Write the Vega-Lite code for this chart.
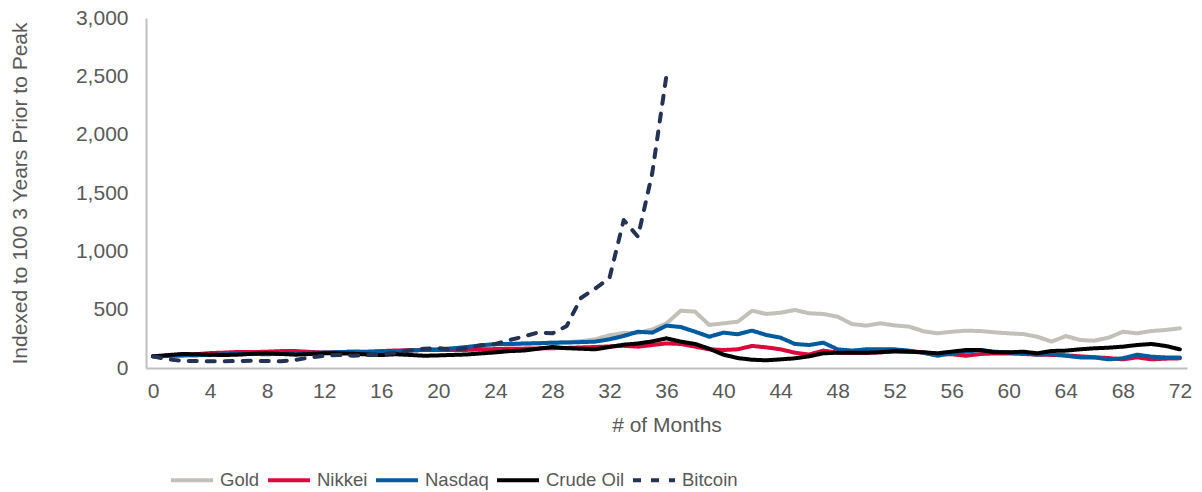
{
  "$schema": "https://vega.github.io/schema/vega-lite/v6.json",
  "autosize": "none",
  "width": 1041,
  "height": 350,
  "padding": {"left": 146, "top": 18, "right": 15, "bottom": 124},
  "config": {
    "view": {"stroke": null},
    "font": "Liberation Sans",
    "axis": {"labelFont": "Liberation Sans", "titleFont": "Liberation Sans", "labelColor": "#595959", "titleColor": "#595959", "labelFontSize": 21, "titleFontSize": 21, "titleFontWeight": "normal", "grid": false, "ticks": false, "domainColor": "#BFBFBF", "domainWidth": 2},
    "legend": {"labelFont": "Liberation Sans", "labelColor": "#595959", "labelFontSize": 18.5}
  },
  "data": {"values": [
    {"m":0,"Gold":100,"Nikkei":100,"Nasdaq":100,"Crude Oil":100,"Bitcoin":100},
    {"m":1,"Gold":102,"Nikkei":105,"Nasdaq":105,"Crude Oil":110,"Bitcoin":75},
    {"m":2,"Gold":105,"Nikkei":112,"Nasdaq":108,"Crude Oil":120,"Bitcoin":62},
    {"m":3,"Gold":108,"Nikkei":118,"Nasdaq":110,"Crude Oil":118,"Bitcoin":60},
    {"m":4,"Gold":110,"Nikkei":128,"Nasdaq":112,"Crude Oil":114,"Bitcoin":58},
    {"m":5,"Gold":115,"Nikkei":132,"Nasdaq":118,"Crude Oil":111,"Bitcoin":58},
    {"m":6,"Gold":118,"Nikkei":138,"Nasdaq":122,"Crude Oil":115,"Bitcoin":60},
    {"m":7,"Gold":120,"Nikkei":136,"Nasdaq":120,"Crude Oil":122,"Bitcoin":62},
    {"m":8,"Gold":122,"Nikkei":140,"Nasdaq":118,"Crude Oil":126,"Bitcoin":60},
    {"m":9,"Gold":125,"Nikkei":145,"Nasdaq":122,"Crude Oil":120,"Bitcoin":57},
    {"m":10,"Gold":128,"Nikkei":145,"Nasdaq":128,"Crude Oil":114,"Bitcoin":70},
    {"m":11,"Gold":130,"Nikkei":138,"Nasdaq":130,"Crude Oil":120,"Bitcoin":90},
    {"m":12,"Gold":132,"Nikkei":132,"Nasdaq":132,"Crude Oil":126,"Bitcoin":105},
    {"m":13,"Gold":135,"Nikkei":135,"Nasdaq":136,"Crude Oil":126,"Bitcoin":112},
    {"m":14,"Gold":138,"Nikkei":140,"Nasdaq":140,"Crude Oil":122,"Bitcoin":105},
    {"m":15,"Gold":140,"Nikkei":140,"Nasdaq":136,"Crude Oil":116,"Bitcoin":110},
    {"m":16,"Gold":142,"Nikkei":145,"Nasdaq":140,"Crude Oil":111,"Bitcoin":115},
    {"m":17,"Gold":145,"Nikkei":150,"Nasdaq":145,"Crude Oil":118,"Bitcoin":130},
    {"m":18,"Gold":150,"Nikkei":152,"Nasdaq":150,"Crude Oil":112,"Bitcoin":150},
    {"m":19,"Gold":155,"Nikkei":154,"Nasdaq":155,"Crude Oil":105,"Bitcoin":165},
    {"m":20,"Gold":160,"Nikkei":154,"Nasdaq":160,"Crude Oil":108,"Bitcoin":170},
    {"m":21,"Gold":168,"Nikkei":155,"Nasdaq":168,"Crude Oil":112,"Bitcoin":155},
    {"m":22,"Gold":178,"Nikkei":155,"Nasdaq":180,"Crude Oil":116,"Bitcoin":170},
    {"m":23,"Gold":190,"Nikkei":160,"Nasdaq":195,"Crude Oil":125,"Bitcoin":195},
    {"m":24,"Gold":200,"Nikkei":162,"Nasdaq":205,"Crude Oil":134,"Bitcoin":206},
    {"m":25,"Gold":205,"Nikkei":165,"Nasdaq":205,"Crude Oil":145,"Bitcoin":240},
    {"m":26,"Gold":210,"Nikkei":166,"Nasdaq":210,"Crude Oil":150,"Bitcoin":270},
    {"m":27,"Gold":212,"Nikkei":168,"Nasdaq":212,"Crude Oil":165,"Bitcoin":305},
    {"m":28,"Gold":218,"Nikkei":170,"Nasdaq":217,"Crude Oil":180,"Bitcoin":297},
    {"m":29,"Gold":222,"Nikkei":172,"Nasdaq":218,"Crude Oil":170,"Bitcoin":360},
    {"m":30,"Gold":230,"Nikkei":176,"Nasdaq":222,"Crude Oil":165,"Bitcoin":600},
    {"m":31,"Gold":245,"Nikkei":180,"Nasdaq":226,"Crude Oil":160,"Bitcoin":680},
    {"m":32,"Gold":280,"Nikkei":185,"Nasdaq":246,"Crude Oil":180,"Bitcoin":770},
    {"m":33,"Gold":300,"Nikkei":190,"Nasdaq":274,"Crude Oil":200,"Bitcoin":1268},
    {"m":34,"Gold":300,"Nikkei":183,"Nasdaq":311,"Crude Oil":210,"Bitcoin":1125},
    {"m":35,"Gold":330,"Nikkei":197,"Nasdaq":303,"Crude Oil":228,"Bitcoin":1670},
    {"m":36,"Gold":383,"Nikkei":211,"Nasdaq":363,"Crude Oil":254,"Bitcoin":2511},
    {"m":37,"Gold":491,"Nikkei":206,"Nasdaq":351,"Crude Oil":226},
    {"m":38,"Gold":483,"Nikkei":183,"Nasdaq":311,"Crude Oil":206},
    {"m":39,"Gold":369,"Nikkei":160,"Nasdaq":268,"Crude Oil":165},
    {"m":40,"Gold":383,"Nikkei":154,"Nasdaq":303,"Crude Oil":114},
    {"m":41,"Gold":397,"Nikkei":160,"Nasdaq":289,"Crude Oil":85},
    {"m":42,"Gold":491,"Nikkei":189,"Nasdaq":320,"Crude Oil":71},
    {"m":43,"Gold":463,"Nikkei":177,"Nasdaq":283,"Crude Oil":66},
    {"m":44,"Gold":474,"Nikkei":160,"Nasdaq":260,"Crude Oil":74},
    {"m":45,"Gold":497,"Nikkei":131,"Nasdaq":206,"Crude Oil":83},
    {"m":46,"Gold":469,"Nikkei":115,"Nasdaq":197,"Crude Oil":100},
    {"m":47,"Gold":463,"Nikkei":149,"Nasdaq":217,"Crude Oil":126},
    {"m":48,"Gold":440,"Nikkei":131,"Nasdaq":160,"Crude Oil":131},
    {"m":49,"Gold":377,"Nikkei":131,"Nasdaq":149,"Crude Oil":131},
    {"m":50,"Gold":363,"Nikkei":130,"Nasdaq":160,"Crude Oil":131},
    {"m":51,"Gold":383,"Nikkei":135,"Nasdaq":160,"Crude Oil":135},
    {"m":52,"Gold":365,"Nikkei":140,"Nasdaq":160,"Crude Oil":146},
    {"m":53,"Gold":355,"Nikkei":140,"Nasdaq":149,"Crude Oil":140},
    {"m":54,"Gold":315,"Nikkei":133,"Nasdaq":131,"Crude Oil":135},
    {"m":55,"Gold":297,"Nikkei":120,"Nasdaq":105,"Crude Oil":126},
    {"m":56,"Gold":311,"Nikkei":118,"Nasdaq":126,"Crude Oil":140},
    {"m":57,"Gold":320,"Nikkei":105,"Nasdaq":140,"Crude Oil":154},
    {"m":58,"Gold":317,"Nikkei":120,"Nasdaq":154,"Crude Oil":154},
    {"m":59,"Gold":306,"Nikkei":125,"Nasdaq":140,"Crude Oil":134},
    {"m":60,"Gold":297,"Nikkei":125,"Nasdaq":134,"Crude Oil":134},
    {"m":61,"Gold":291,"Nikkei":120,"Nasdaq":126,"Crude Oil":140},
    {"m":62,"Gold":268,"Nikkei":115,"Nasdaq":114,"Crude Oil":126},
    {"m":63,"Gold":226,"Nikkei":112,"Nasdaq":120,"Crude Oil":146},
    {"m":64,"Gold":274,"Nikkei":108,"Nasdaq":105,"Crude Oil":149},
    {"m":65,"Gold":240,"Nikkei":100,"Nasdaq":91,"Crude Oil":160},
    {"m":66,"Gold":234,"Nikkei":92,"Nasdaq":91,"Crude Oil":169},
    {"m":67,"Gold":260,"Nikkei":85,"Nasdaq":74,"Crude Oil":174},
    {"m":68,"Gold":311,"Nikkei":74,"Nasdaq":83,"Crude Oil":183},
    {"m":69,"Gold":297,"Nikkei":91,"Nasdaq":114,"Crude Oil":197},
    {"m":70,"Gold":317,"Nikkei":74,"Nasdaq":97,"Crude Oil":206},
    {"m":71,"Gold":326,"Nikkei":80,"Nasdaq":91,"Crude Oil":189},
    {"m":72,"Gold":340,"Nikkei":83,"Nasdaq":91,"Crude Oil":160}
  ]},
  "transform": [
    {"fold": ["Gold", "Nikkei", "Nasdaq", "Crude Oil", "Bitcoin"], "as": ["series", "value"]}
  ],
  "mark": {"type": "line", "strokeWidth": 4, "strokeCap": "round", "strokeJoin": "round"},
  "encoding": {
    "x": {
      "field": "m", "type": "quantitative",
      "scale": {"domain": [-0.5, 72.5], "nice": false, "zero": false},
      "axis": {"title": "# of Months", "values": [0,4,8,12,16,20,24,28,32,36,40,44,48,52,56,60,64,68,72], "labelAngle": 0, "labelPadding": 12, "titleY": 57, "titleBaseline": "middle", "labelFlush": false}
    },
    "y": {
      "field": "value", "type": "quantitative",
      "scale": {"domain": [0, 3000], "nice": false},
      "axis": {"title": "Indexed to 100 3 Years Prior to Peak", "values": [0,500,1000,1500,2000,2500,3000], "format": ",d", "labelPadding": 18, "titleX": -126, "titleY": 175, "titleBaseline": "middle", "labelFlush": false}
    },
    "color": {
      "field": "series", "type": "nominal",
      "scale": {"domain": ["Gold", "Nikkei", "Nasdaq", "Crude Oil", "Bitcoin"], "range": ["#C3C0B9", "#DC0A3C", "#005C9E", "#000000", "#243253"]},
      "legend": {"title": null, "orient": "none", "direction": "horizontal", "legendX": 23, "legendY": 439, "symbolType": "stroke", "symbolStrokeWidth": 4, "symbolSize": 1764, "labelOffset": 5, "columnPadding": 0}
    },
    "strokeDash": {
      "field": "series", "type": "nominal",
      "scale": {"domain": ["Gold", "Nikkei", "Nasdaq", "Crude Oil", "Bitcoin"], "range": [[1,0],[1,0],[1,0],[1,0],[8,10]]},
      "legend": {"title": null, "orient": "none", "direction": "horizontal", "legendX": 23, "legendY": 439, "symbolType": "stroke", "symbolStrokeWidth": 4, "symbolSize": 1764, "labelOffset": 5, "columnPadding": 0}
    }
  }
}
